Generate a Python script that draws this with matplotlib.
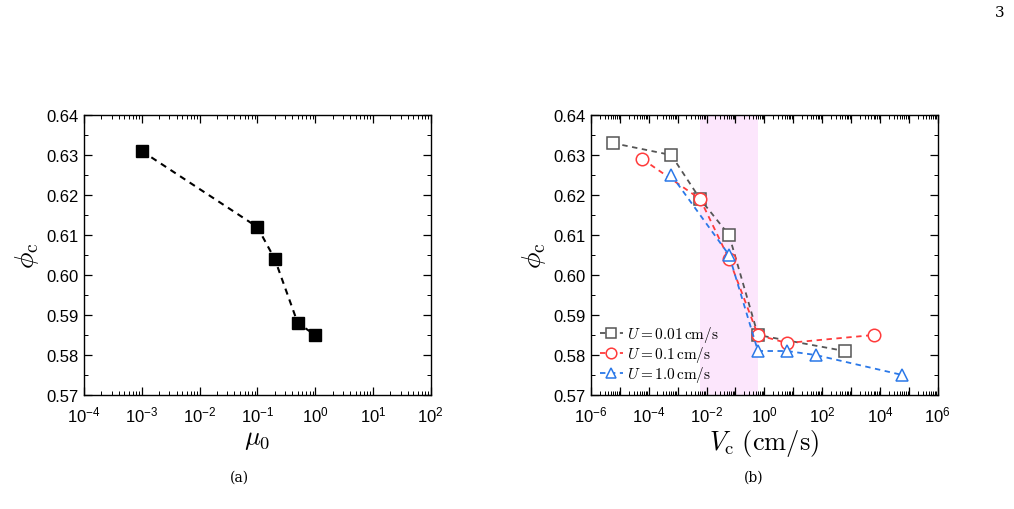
import numpy as np
import matplotlib
matplotlib.use("Agg")
import matplotlib.pyplot as plt
from matplotlib.ticker import LogLocator, MultipleLocator, NullFormatter, FuncFormatter

plt.rcParams["font.family"] = ["Liberation Sans", "DejaVu Sans"]
plt.rcParams["mathtext.fontset"] = "cm"

# ── panel (a): phi_c vs mu_0 ──
mu0 = [1e-3, 1e-1, 0.2, 0.5, 1.0]
phi_a = [0.631, 0.612, 0.604, 0.588, 0.585]

# ── panel (b): phi_c vs V_c for three speeds ──
vc_u001 = [5.6e-6, 6e-4, 6e-3, 6e-2, 0.6, 600]
phi_u001 = [0.633, 0.630, 0.619, 0.610, 0.585, 0.581]
vc_u01 = [6e-5, 6e-3, 6e-2, 0.6, 6, 6000]
phi_u01 = [0.629, 0.619, 0.604, 0.585, 0.583, 0.585]
vc_u1 = [6e-4, 6e-2, 0.6, 6, 60, 6e4]
phi_u1 = [0.625, 0.605, 0.581, 0.581, 0.580, 0.575]
band = [6e-3, 0.6]


def decade_label(step):
    def fmt(v, pos):
        e = int(round(np.log10(v)))
        if e % step:
            return ""
        return r"$\mathregular{10^{%d}}$" % e
    return FuncFormatter(fmt)


def style_axes(ax, xlo, xhi, step):
    ax.set_xscale("log")
    ax.set_xlim(xlo, xhi)
    ax.set_ylim(0.57, 0.64)
    ax.yaxis.set_major_locator(MultipleLocator(0.01))
    ax.yaxis.set_minor_locator(MultipleLocator(0.005))
    ax.yaxis.set_major_formatter(plt.FormatStrFormatter("%.2f"))
    ax.xaxis.set_major_locator(LogLocator(base=10, numticks=20))
    ax.xaxis.set_major_formatter(decade_label(step))
    ax.xaxis.set_minor_locator(LogLocator(base=10, subs=np.arange(2, 10), numticks=100))
    ax.xaxis.set_minor_formatter(NullFormatter())
    ax.tick_params(which="both", direction="in", top=True, right=True, labelsize=12)
    ax.tick_params(which="major", length=6, width=0.9)
    ax.tick_params(which="minor", length=3, width=0.7)
    ax.tick_params(axis="x", pad=7)
    for s in ax.spines.values():
        s.set_linewidth(1.0)


fig = plt.figure(figsize=(10.14, 5.10), dpi=100)
ax1 = fig.add_axes([0.0828, 0.2235, 0.342, 0.549])
ax2 = fig.add_axes([0.5828, 0.2235, 0.342, 0.549])

ax1.plot(mu0, phi_a, ls="--", color="black", lw=1.5, marker="s", ms=8,
         mfc="black", mec="black", dashes=(3, 2.5))
style_axes(ax1, 1e-4, 1e2, 1)
ax1.set_xlabel(r"$\mu_0$", fontsize=19, labelpad=2)
ax1.set_ylabel(r"$\phi_{\rm c}$", fontsize=20, labelpad=4)

ax2.axvspan(band[0], band[1], color="#fce6fc", lw=0, zorder=0)
series = [
    (vc_u001, phi_u001, "#555555", "s", r"$U = 0.01\,\mathrm{cm/s}$"),
    (vc_u01, phi_u01, "#ff3b3b", "o", r"$U = 0.1\,\mathrm{cm/s}$"),
    (vc_u1, phi_u1, "#2a78e8", "^", r"$U = 1.0\,\mathrm{cm/s}$"),
]
for x, y, c, m, lab in series:
    ax2.plot(x, y, ls="--", color=c, lw=1.3, marker=m, ms=9 if m != "s" else 8,
             mfc="white", mec=c, mew=1.1, dashes=(3, 2.5), label=lab)
style_axes(ax2, 1e-6, 1e6, 2)
ax2.set_xlabel(r"$V_{\rm c}\ (\mathrm{cm/s})$", fontsize=19, labelpad=2)
ax2.set_ylabel(r"$\phi_{\rm c}$", fontsize=20, labelpad=4)
ax2.legend(loc="lower left", fontsize=11, frameon=False, handlelength=1.5,
           handletextpad=0.3, labelspacing=0.0, borderaxespad=0.3,
           markerscale=0.85, bbox_to_anchor=(-0.005, 0.0))

fig.text(0.2365, 0.063, "(a)", ha="center", va="center", fontsize=10, family="DejaVu Serif")
fig.text(0.7435, 0.063, "(b)", ha="center", va="center", fontsize=10, family="DejaVu Serif")
fig.text(0.986, 0.975, "3", ha="center", va="center", fontsize=11, family="DejaVu Serif")

fig.savefig("out.png", dpi=100)
